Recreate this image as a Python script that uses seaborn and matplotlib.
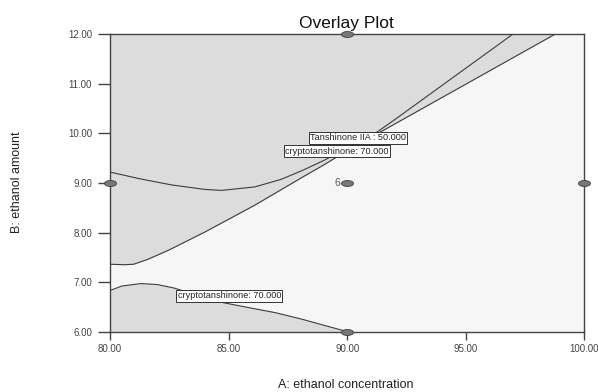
import numpy as np
import pandas as pd
import matplotlib
matplotlib.use("Agg")
import matplotlib.pyplot as plt
import seaborn as sns
from matplotlib.path import Path

# ---- data ----
upper_x = [80.0, 81.2, 82.6, 84.0, 84.7, 86.1, 87.2, 88.1, 89.0, 90.0, 90.7, 91.3, 92.1, 96.98]
upper_y = [9.22, 9.09, 8.96, 8.87, 8.85, 8.92, 9.07, 9.25, 9.45, 9.70, 9.86, 10.04, 10.31, 12.0]
mid_x = [80.0, 80.6, 81.0, 81.6, 82.5, 84.0, 86.1, 88.2, 89.0, 90.0, 91.3, 98.76]
mid_y = [7.36, 7.35, 7.36, 7.46, 7.65, 8.01, 8.55, 9.14, 9.36, 9.65, 10.0, 12.0]
low_x = [80.0, 80.5, 81.3, 82.0, 82.7, 83.5, 84.5, 85.9, 87.0, 88.1, 90.0]
low_y = [6.83, 6.92, 6.97, 6.95, 6.88, 6.76, 6.61, 6.48, 6.38, 6.25, 6.0]

design_x = [80, 90, 90, 100, 90]
design_y = [9, 12, 9, 9, 6]
center_label = "6"

contour_labels = ["Tanshinone IIA : 50.000", "cryptotanshinone: 70.000", "cryptotanshinone: 70.000"]
label_x = [90.46, 89.56, 85.03]
label_y = [9.91, 9.64, 6.72]

x_ticks = [80, 85, 90, 95, 100]
y_ticks = [6, 7, 8, 9, 10, 11, 12]

# ---- style ----
sns.set_theme(style="white")
plt.rcParams["font.family"] = ["Liberation Sans", "DejaVu Sans"]

fig = plt.figure(figsize=(5.98, 3.92), dpi=100)
fig.patch.set_facecolor("white")
ax = fig.add_axes([0.184, 0.154, 0.793, 0.7585])
ax.set_facecolor("#f6f6f6")

gray = "#dcdcdc"
line_c = "#3c3c3c"

ax.fill_between(mid_x, mid_y, 12, color=gray, linewidth=0, zorder=1)
ax.fill_between(low_x, 6, low_y, color=gray, linewidth=0, zorder=1)

for xs, ys in [(upper_x, upper_y), (mid_x, mid_y), (low_x, low_y)]:
    df = pd.DataFrame({"x": xs, "y": ys})
    sns.lineplot(data=df, x="x", y="y", sort=False, estimator=None,
                 color=line_c, linewidth=0.8, ax=ax, zorder=3)

circ = Path.unit_circle()
ell = Path(circ.vertices * np.array([1.0, 0.5]), circ.codes)
sns.scatterplot(x=design_x, y=design_y, marker=ell, s=75, color="#777777",
                edgecolor="#404040", linewidth=0.6, ax=ax, zorder=6, clip_on=False)
ax.text(89.72, 9.0, center_label, ha="right", va="center", fontsize=7.5, color="#555555", zorder=7)

for t, lx, ly in zip(contour_labels, label_x, label_y):
    ax.text(lx, ly, t, ha="center", va="center", fontsize=6.6, color="#222222", zorder=8,
            bbox=dict(boxstyle="square,pad=0.15", facecolor="white", edgecolor="#333333", linewidth=0.7))

ax.set_xlim(80, 100)
ax.set_ylim(6, 12)
ax.set_xticks(x_ticks)
ax.set_yticks(y_ticks)
ax.set_xticklabels([f"{v:.2f}" for v in x_ticks])
ax.set_yticklabels([f"{v:.2f}" for v in y_ticks])
ax.tick_params(axis="x", direction="out", length=6, width=1, color="#444444",
               labelsize=7, labelcolor="#444444", pad=3, bottom=True, top=False)
ax.tick_params(axis="y", direction="out", length=9, width=1, color="#444444",
               labelsize=7, labelcolor="#444444", pad=4, left=True, right=False)
for s in ax.spines.values():
    s.set_visible(True)
    s.set_color("#444444")
    s.set_linewidth(1.0)

ax.set_xlabel("")
ax.set_ylabel("")
fig.text(0.578, 0.003, "A: ethanol concentration", ha="center", va="bottom", fontsize=9, color="#222222")
fig.text(0.029, 0.535, "B: ethanol amount", ha="center", va="center", rotation=90, fontsize=9, color="#222222")
fig.text(0.58, 0.92, "Overlay Plot", ha="center", va="bottom", fontsize=12.5, color="#111111")

fig.savefig("out.png", dpi=100, facecolor="white")
